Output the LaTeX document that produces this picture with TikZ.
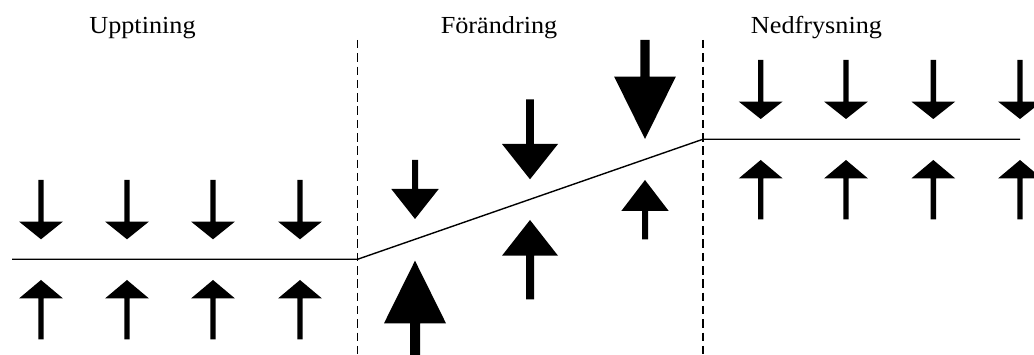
\documentclass[tikz,border=0pt]{standalone}
\usepackage{fontspec}
\setmainfont{Liberation Serif}
\tikzset{
  lbl/.style={anchor=base, inner sep=0pt, font=\fontsize{24.5}{24.5}\selectfont},
  divider/.style={line width=1.4pt, dash pattern=on 8.5pt off 4.8pt},
  level/.style={line width=1.4pt},
  arr/.style={fill=black}
}
% down arrow: x, shaft top, head base, tip, head half width, shaft half width
\newcommand\dnarr[6]{\fill[arr] (#1-#6,#2) -- (#1+#6,#2) -- (#1+#6,#3) -- (#1+#5,#3) -- (#1,#4) -- (#1-#5,#3) -- (#1-#6,#3) -- cycle;}
% up arrow: x, shaft bottom, head base, tip, head half width, shaft half width
\newcommand\uparr[6]{\fill[arr] (#1-#6,#2) -- (#1+#6,#2) -- (#1+#6,#3) -- (#1+#5,#3) -- (#1,#4) -- (#1-#5,#3) -- (#1-#6,#3) -- cycle;}
\begin{document}
\begin{tikzpicture}[x=1pt,y=-1pt]
\useasboundingbox (0,0) rectangle (1034,355);
\clip (0,0) rectangle (1034,355);
% labels
\node[lbl] (t1) at (142.5,33.5) {\scalebox{1.07}[1]{Upptining}};
\node[lbl] (t2) at (499,33.5) {\scalebox{1.07}[1]{Förändring}};
\node[lbl] (t3) at (816.5,33.5) {\scalebox{1.07}[1]{Nedfrysning}};
% dividers
\coordinate (d1t) at (357.5,40);
\coordinate (d1b) at (357.5,355);
\coordinate (d2t) at (702.8,40);
\coordinate (d2b) at (702.8,355);
\draw[divider] (d1t) -- (d1b);
\draw[divider] (d2t) -- (d2b);
% level line
\coordinate (l0) at (12,259.3);
\coordinate (l1) at (357.5,259.3);
\coordinate (l2) at (702.8,139.3);
\coordinate (l3) at (1020,139.3);
\draw[level] (l0) -- (l1) -- (l2) -- (l3);
% Upptining arrows
\foreach \x in {41,127,213,300}{
  \dnarr{\x}{180}{221.7}{239.3}{21.8}{2.7}
  \uparr{\x}{339.3}{298.3}{280}{21.8}{2.7}
}
% Nedfrysning arrows
\foreach \x in {760.7,846,933.3,1020}{
  \dnarr{\x}{60}{101.7}{119}{21.8}{2.7}
  \uparr{\x}{219.3}{178.3}{160}{21.8}{2.7}
}
% Forandring arrows
\dnarr{415}{160}{189}{219}{23.7}{3}
\uparr{415}{360}{323.3}{260.7}{31}{5}
\dnarr{530}{99.3}{144}{179.3}{28}{3.9}
\uparr{530}{299.3}{255.7}{220}{28}{4}
\dnarr{645}{40}{76.7}{139}{30.8}{4.7}
\uparr{645}{239.3}{211}{180}{23.7}{3}
\end{tikzpicture}
\end{document}
